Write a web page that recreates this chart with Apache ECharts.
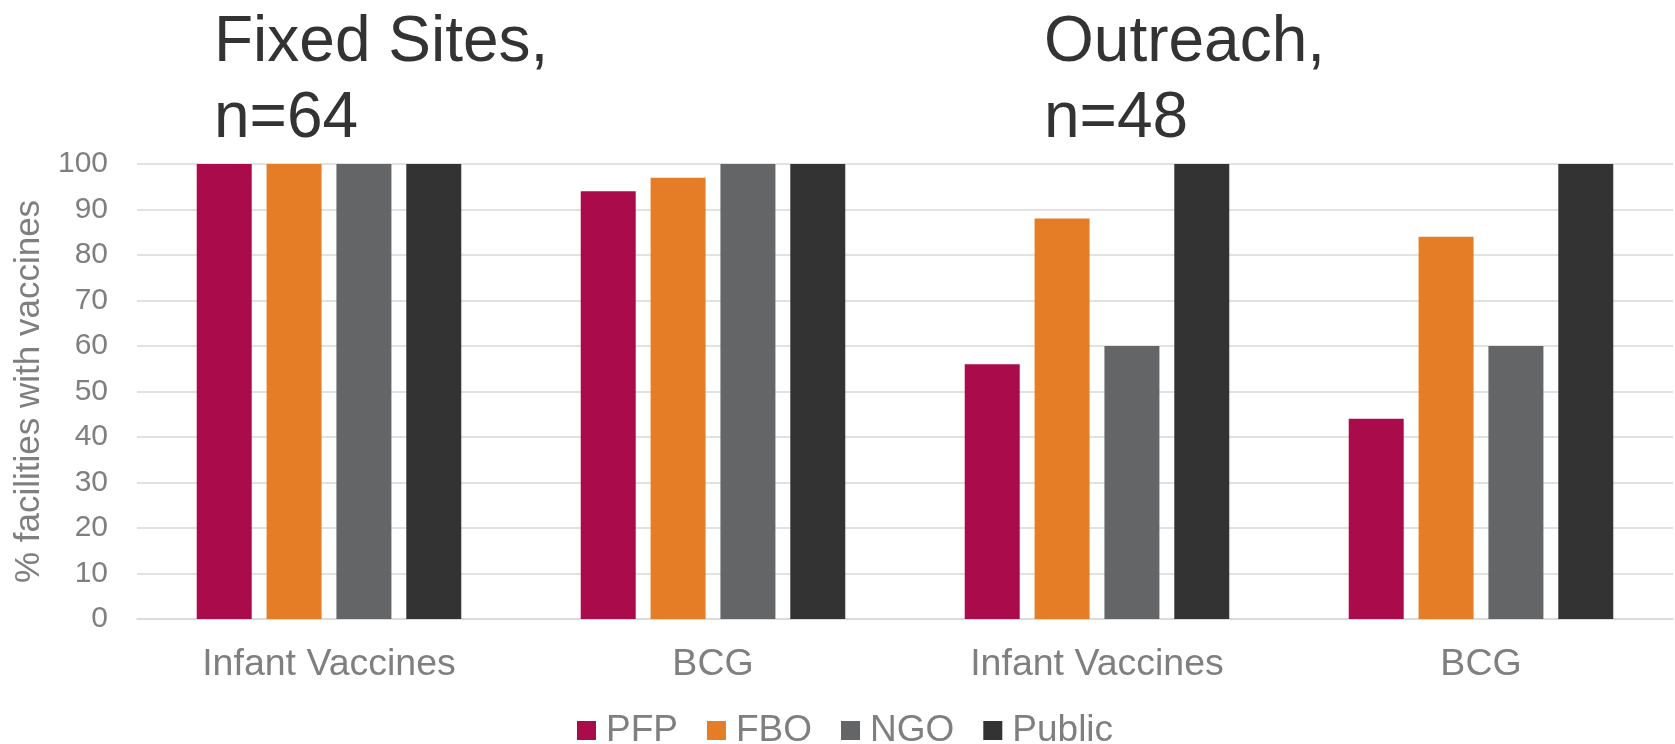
<!DOCTYPE html>
<html>
<head>
<meta charset="utf-8">
<title>% facilities with vaccines</title>
<script src="https://cdn.jsdelivr.net/npm/echarts@6/dist/echarts.min.js"></script>
<style>
  html, body { margin: 0; padding: 0; background: #ffffff; }
  #chart { width: 1675px; height: 744px; }
</style>
</head>
<body>
<div id="chart"></div>
<script>
// Vaccine availability by facility type, fixed sites vs outreach
const categories = ['Infant Vaccines', 'BCG', 'Infant Vaccines', 'BCG'];
const seriesNames = ['PFP', 'FBO', 'NGO', 'Public'];
const pfp    = [100, 94, 56, 44];
const fbo    = [100, 97, 88, 84];
const ngo    = [100, 100, 60, 60];
const pub    = [100, 100, 100, 100];
const groupTitles = ['Fixed Sites,\nn=64', 'Outreach,\nn=48'];
const yMin = 0, yMax = 100, yStep = 10;
const yAxisTitle = '% facilities with vaccines';

const colors = ['#a90b4b', '#e47d25', '#646567', '#333333'];
const FONT = '"Liberation Sans", Arial, sans-serif';

const chart = echarts.init(document.getElementById('chart'), null, { renderer: 'canvas' });

const values = [pfp, fbo, ngo, pub];
const titleStyle = { fontFamily: FONT, fontSize: 64, fontWeight: 'normal', color: '#333333', lineHeight: 76 };

chart.setOption({
  animation: false,
  textStyle: { fontFamily: FONT },
  title: [
    { text: groupTitles[0], left: 214, top: 5, padding: 0, textStyle: titleStyle },
    { text: groupTitles[1], left: 1044, top: 5, padding: 0, textStyle: titleStyle }
  ],
  legend: {
    data: seriesNames,
    left: 577,
    top: 712,
    padding: 0,
    itemWidth: 19,
    itemHeight: 19,
    itemGap: 29,
    icon: 'rect',
    textStyle: { fontFamily: FONT, fontSize: 37, color: '#7f7f7f', padding: [0, 0, 0, 5] }
  },
  grid: { left: 137, right: 2, top: 164, bottom: 125, containLabel: false },
  xAxis: {
    type: 'category',
    data: categories,
    axisLine: { show: true, lineStyle: { color: '#d9d9d9', width: 1.5 } },
    axisTick: { show: false },
    axisLabel: { fontFamily: FONT, fontSize: 37.5, color: '#7f7f7f', margin: 27, interval: 0 }
  },
  yAxis: {
    type: 'value',
    min: yMin, max: yMax, interval: yStep,
    name: yAxisTitle,
    nameLocation: 'middle',
    nameRotate: 90,
    nameGap: 89,
    nameTextStyle: { fontFamily: FONT, fontSize: 35, color: '#7f7f7f' },
    axisLine: { show: false },
    axisTick: { show: false },
    axisLabel: { fontFamily: FONT, fontSize: 30, color: '#7f7f7f', margin: 29 },
    splitLine: { show: true, lineStyle: { color: '#d9d9d9', width: 1.5 } }
  },
  series: seriesNames.map((name, i) => ({
    name,
    type: 'bar',
    data: values[i],
    barWidth: 55,
    barGap: '27%',
    itemStyle: { color: colors[i] }
  }))
});
</script>
</body>
</html>
